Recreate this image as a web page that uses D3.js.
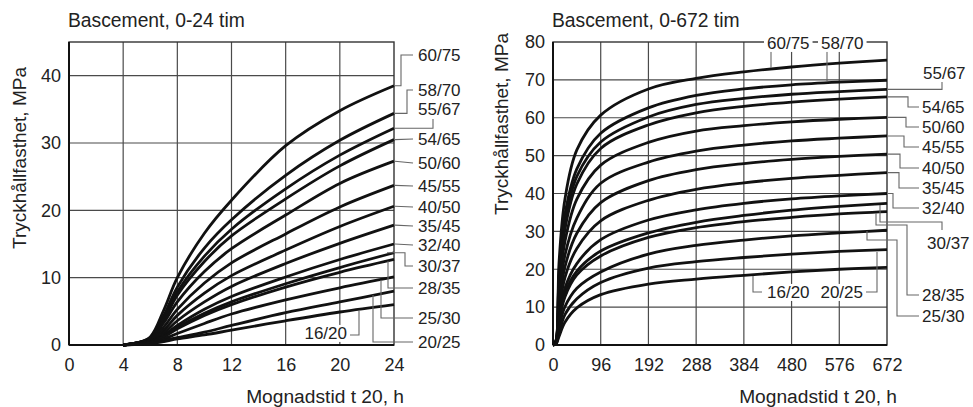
<!DOCTYPE html>
<html>
<head>
<meta charset="utf-8">
<script src="https://cdn.jsdelivr.net/npm/d3@7"></script>
<style>
  body { margin: 0; background: #fff; }
  svg text { font-family: "Liberation Sans", Arial, sans-serif; fill: #222; }
</style>
</head>
<body>
<div id="chart"></div>
<script>
// data
var classes = ["60/75", "58/70", "55/67", "54/65", "50/60", "45/55", "40/50",
  "35/45", "32/40", "30/37", "28/35", "25/30", "20/25", "16/20"];

// 0-24 h chart
var hoursShort = [4, 5, 6, 7, 8, 10, 12, 16, 20, 24];
var strengthShort = [
  [0, 0.3, 1.2, 5.2, 10.0, 16.6, 21.5, 29.6, 34.8, 38.5],
  [0, 0.3, 1.1, 4.4, 8.6, 14.4, 18.6, 25.2, 30.4, 34.4],
  [0, 0.3, 1.0, 4.0, 7.9, 13.2, 17.2, 23.2, 28.2, 32.2],
  [0, 0.3, 1.0, 3.7, 7.4, 12.4, 16.2, 21.7, 26.6, 30.5],
  [0, 0.3, 0.9, 3.3, 6.4, 10.9, 14.3, 19.3, 24.0, 27.3],
  [0, 0.3, 0.8, 2.7, 5.3, 9.2, 12.2, 16.5, 20.5, 23.7],
  [0, 0.3, 0.7, 2.2, 4.4, 7.7, 10.3, 14.1, 17.6, 20.6],
  [0, 0.2, 0.6, 1.8, 3.6, 6.4, 8.7, 12.1, 15.1, 17.8],
  [0, 0.2, 0.5, 1.5, 2.9, 5.3, 7.2, 10.1, 12.7, 15.0],
  [0, 0.2, 0.5, 1.3, 2.6, 4.7, 6.4, 9.1, 11.5, 13.7],
  [0, 0.2, 0.4, 1.2, 2.4, 4.4, 6.0, 8.6, 10.8, 12.7],
  [0, 0.2, 0.4, 0.9, 1.7, 3.2, 4.6, 6.7, 8.5, 10.1],
  [0, 0.1, 0.3, 0.7, 1.1, 1.9, 2.9, 4.8, 6.4, 8.0],
  [0, 0.1, 0.2, 0.5, 0.9, 1.5, 2.2, 3.6, 4.9, 6.0]
];

// 0-672 h chart
var hoursLong = [0, 6, 12, 24, 48, 96, 192, 288, 384, 480, 576, 672];
var strengthLong = [
  [0, 1.2, 21.5, 38.5, 51.5, 60.7, 67.6, 70.4, 72.1, 73.4, 74.4, 75.2],
  [0, 1.1, 18.6, 34.4, 46.5, 55.9, 62.6, 65.9, 67.6, 68.7, 69.4, 69.9],
  [0, 1.0, 17.2, 32.2, 44.5, 53.6, 60.2, 63.5, 65.1, 66.2, 66.9, 67.5],
  [0, 1.0, 16.2, 30.5, 42.5, 51.9, 58.1, 61.3, 63.0, 64.1, 64.9, 65.5],
  [0, 0.9, 14.3, 27.3, 38.5, 47.5, 53.5, 56.5, 57.9, 58.9, 59.6, 60.1],
  [0, 0.8, 12.2, 23.7, 33.5, 42.7, 48.3, 51.2, 52.8, 53.9, 54.6, 55.2],
  [0, 0.7, 10.3, 20.6, 29.5, 37.6, 43.4, 46.3, 47.9, 49.0, 49.8, 50.4],
  [0, 0.6, 8.7, 17.8, 25.5, 32.8, 38.2, 41.1, 42.8, 44.0, 44.8, 45.5],
  [0, 0.5, 7.2, 15.0, 21.5, 27.8, 33.0, 35.7, 37.4, 38.6, 39.4, 40.0],
  [0, 0.5, 6.4, 13.7, 19.5, 24.8, 29.6, 32.4, 34.2, 35.6, 36.6, 37.4],
  [0, 0.4, 6.0, 12.7, 18.5, 23.5, 28.4, 31.0, 32.6, 33.7, 34.6, 35.2],
  [0, 0.4, 4.6, 10.1, 15.0, 19.3, 24.0, 26.3, 27.7, 28.8, 29.6, 30.3],
  [0, 0.3, 2.9, 8.0, 12.2, 16.5, 20.3, 22.0, 23.1, 24.0, 24.7, 25.2],
  [0, 0.2, 2.2, 6.0, 9.8, 13.3, 16.1, 17.4, 18.4, 19.3, 20.0, 20.5]
];

var ticksShort = [0, 4, 8, 12, 16, 20, 24];
var ticksLong = [0, 96, 192, 288, 384, 480, 576, 672];
var yTicksShort = [0, 10, 20, 30, 40];
var yTicksLong = [0, 10, 20, 30, 40, 50, 60, 70, 80];

var svg = d3.select("#chart").append("svg")
  .attr("width", 973)
  .attr("height", 407);

function drawPanel(opt) {
  var x = d3.scaleLinear().domain(opt.xDomain).range([opt.left, opt.right]);
  var y = d3.scaleLinear().domain(opt.yDomain).range([opt.bottom, opt.top]);
  var g = svg.append("g");

  // grid
  g.append("g").selectAll("line.v")
    .data(opt.xTicks.slice(1, -1))
    .enter().append("line")
    .attr("x1", d => x(d)).attr("x2", d => x(d))
    .attr("y1", opt.top).attr("y2", opt.bottom)
    .attr("stroke", "#4a4a4a").attr("stroke-width", 1.2);
  g.append("g").selectAll("line.h")
    .data(opt.yTicks.slice(1).filter(d => d < opt.yDomain[1]))
    .enter().append("line")
    .attr("x1", opt.left).attr("x2", opt.right)
    .attr("y1", d => y(d)).attr("y2", d => y(d))
    .attr("stroke", "#4a4a4a").attr("stroke-width", 1.2);

  g.append("rect")
    .attr("x", opt.left).attr("y", opt.top)
    .attr("width", opt.right - opt.left).attr("height", opt.bottom - opt.top)
    .attr("fill", "none").attr("stroke", "#333").attr("stroke-width", 1.4);

  // axes (labels only, the frame is the rect)
  var xAxis = d3.axisBottom(x).tickValues(opt.xTicks).tickSize(0).tickPadding(13);
  var ax = g.append("g").attr("transform", `translate(0,${opt.bottom})`).call(xAxis);
  ax.select(".domain").remove();
  ax.selectAll("text").attr("font-size", 18).attr("fill", "#222");

  var yAxis = d3.axisLeft(y).tickValues(opt.yTicks).tickSize(0).tickPadding(8);
  var ay = g.append("g").attr("transform", `translate(${opt.left},0)`).call(yAxis);
  ay.select(".domain").remove();
  ay.selectAll("text").attr("font-size", 18).attr("fill", "#222");

  // thick black axis lines
  g.append("line")
    .attr("x1", opt.left).attr("x2", opt.right)
    .attr("y1", opt.bottom).attr("y2", opt.bottom)
    .attr("stroke", "#111").attr("stroke-width", 2);
  g.append("line")
    .attr("x1", opt.left).attr("x2", opt.left)
    .attr("y1", opt.top).attr("y2", opt.bottom)
    .attr("stroke", "#111").attr("stroke-width", 2);

  // curves
  var line = d3.line()
    .x((d, i) => x(opt.hours[i]))
    .y(d => y(d))
    .curve(d3.curveCatmullRom.alpha(0.5));
  g.append("g").selectAll("path")
    .data(opt.values)
    .enter().append("path")
    .attr("d", line)
    .attr("fill", "none")
    .attr("stroke", "#111")
    .attr("stroke-width", 2.8)
    .attr("stroke-linejoin", "round");

  // titles
  g.append("text")
    .attr("x", opt.left - 1).attr("y", 27)
    .attr("font-size", 19.3)
    .text(opt.title);
  g.append("text")
    .attr("x", opt.right + 10).attr("y", 403)
    .attr("text-anchor", "end")
    .attr("font-size", 19.2)
    .text("Mognadstid t 20, h");
  g.append("text")
    .attr("transform", `translate(${opt.yLabelX},${opt.yLabelY}) rotate(-90)`)
    .attr("text-anchor", "middle")
    .attr("font-size", 19)
    .text("Tryckhållfasthet, MPa");

  // leader lines and class labels
  var lastY = opt.values.map(v => y(v[v.length - 1]));
  var lead = g.append("g");
  opt.leaders.forEach(function(l) {
    var i = classes.indexOf(l.name);
    var pts = l.path.map(p => [p[0], p[1] === "E" ? lastY[i] : p[1]]);
    lead.append("path")
      .attr("d", d3.line()(pts))
      .attr("fill", "none")
      .attr("stroke", "#666")
      .attr("stroke-width", 1.1);
  });
  opt.leaders.forEach(function(l) {
    var t = lead.append("text")
      .attr("x", l.tx).attr("y", l.ty)
      .attr("dy", "0.35em")
      .attr("text-anchor", l.anchor || "start")
      .attr("font-size", 17)
      .text(l.name);
    if (l.bg) {
      var b = t.node().getBBox();
      lead.insert("rect", "text")
        .attr("x", b.x - 3).attr("y", b.y + 1)
        .attr("width", b.width + 6).attr("height", b.height - 2)
        .attr("fill", "#fff");
    }
  });
}

drawPanel({
  left: 69, right: 394, top: 42, bottom: 345,
  xDomain: [0, 24], yDomain: [0, 45],
  xTicks: ticksShort, yTicks: yTicksShort,
  hours: hoursShort, values: strengthShort,
  title: "Bascement, 0-24 tim",
  yLabelX: 26, yLabelY: 158,
  leaders: [
    {name: "60/75", tx: 418, ty: 55, path: [[395, "E"], [401, "E"], [401, 55], [413, 55]]},
    {name: "58/70", tx: 418, ty: 90, path: [[395, "E"], [407, "E"], [407, 90], [413, 90]]},
    {name: "55/67", tx: 418, ty: 109, path: [[395, "E"], [433, "E"], [433, 119]]},
    {name: "54/65", tx: 418, ty: 139, path: [[395, "E"], [413, 139]]},
    {name: "50/60", tx: 418, ty: 163, path: [[395, "E"], [413, 163]]},
    {name: "45/55", tx: 418, ty: 186, path: [[395, "E"], [413, 186]]},
    {name: "40/50", tx: 418, ty: 207, path: [[395, "E"], [413, 207]]},
    {name: "35/45", tx: 418, ty: 226, path: [[395, "E"], [413, 226]]},
    {name: "32/40", tx: 418, ty: 245, path: [[395, "E"], [413, 245]]},
    {name: "30/37", tx: 418, ty: 266, path: [[387, "E"], [405, "E"], [405, 266], [413, 266]]},
    {name: "28/35", tx: 418, ty: 288, path: [[388, 261], [388, 288], [413, 288]]},
    {name: "25/30", tx: 418, ty: 318, path: [[381, 280], [381, 318], [413, 318]]},
    {name: "20/25", tx: 418, ty: 342, path: [[373, 295], [373, 342], [413, 342]]},
    {name: "16/20", tx: 347, ty: 333, anchor: "end", bg: true, path: [[349, 335], [359, 335], [359, 311]]}
  ]
});

drawPanel({
  left: 553, right: 887, top: 42, bottom: 345,
  xDomain: [0, 672], yDomain: [0, 80],
  xTicks: ticksLong, yTicks: yTicksLong,
  hours: hoursLong, values: strengthLong,
  title: "Bascement, 0-672 tim",
  yLabelX: 508, yLabelY: 124,
  leaders: [
    {name: "60/75", tx: 767, ty: 43, bg: true, path: [[771, 50], [771, 68]]},
    {name: "58/70", tx: 821, ty: 43, bg: true, path: [[827, 50], [827, 81]]},
    {name: "55/67", tx: 923, ty: 73, path: [[888, "E"], [942, "E"], [942, 82]]},
    {name: "54/65", tx: 922, ty: 107, path: [[888, "E"], [908, "E"], [908, 107], [919, 107]]},
    {name: "50/60", tx: 922, ty: 127, path: [[888, "E"], [906, "E"], [906, 127], [919, 127]]},
    {name: "45/55", tx: 922, ty: 147, path: [[888, "E"], [904, "E"], [904, 147], [919, 147]]},
    {name: "40/50", tx: 922, ty: 168, path: [[888, "E"], [900, "E"], [900, 168], [919, 168]]},
    {name: "35/45", tx: 922, ty: 188, path: [[888, "E"], [899, "E"], [899, 188], [919, 188]]},
    {name: "32/40", tx: 922, ty: 208, path: [[888, "E"], [893, "E"], [893, 208], [919, 208]]},
    {name: "30/37", tx: 927, ty: 243, path: [[880, 205], [880, 222], [942, 222], [942, 230]]},
    {name: "28/35", tx: 922, ty: 295, path: [[876, 213], [876, 225], [907, 225], [907, 295], [919, 295]]},
    {name: "25/30", tx: 922, ty: 316, path: [[867, 231], [867, 240], [897, 240], [897, 316], [919, 316]]},
    {name: "20/25", tx: 863, ty: 292, anchor: "end", bg: true, path: [[866, 292], [877, 292], [877, 252]]},
    {name: "16/20", tx: 767, ty: 292, bg: true, path: [[762, 292], [753, 292], [753, 276]]}
  ]
});
</script>
</body>
</html>
